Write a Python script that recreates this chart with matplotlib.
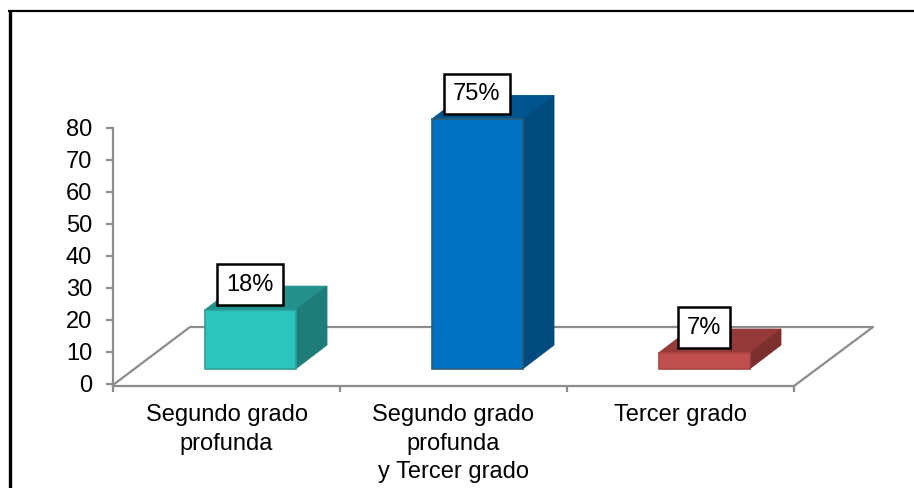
import matplotlib
matplotlib.use('Agg')
import matplotlib.pyplot as plt
from matplotlib.lines import Line2D

plt.rcParams['font.family'] = ['Liberation Sans', 'DejaVu Sans']

categories = ['Segundo grado\nprofunda', 'Segundo grado\nprofunda\ny Tercer grado', 'Tercer grado']
bar_heights = [18.4, 78, 5]
bar_labels = ['18%', '75%', '7%']
y_ticks = [0, 10, 20, 30, 40, 50, 60, 70, 80]

front_colors = ['#2EC4BE', '#0070C0', '#C0504D']
top_colors = ['#24918C', '#00558F', '#953A38']
side_colors = ['#1F7D79', '#004A7E', '#7C302E']
edge_colors = ['#2A9F9A', '#2B5F78', '#AD4441']

W, H = 914, 488
fig = plt.figure(figsize=(W / 100, H / 100), dpi=100)
ax = fig.add_axes([113 / W, 1 - 384 / H, (794 - 113) / W, 256 / H])
ax.set_xlim(-0.5, 2.5)
ax.set_ylim(0, 80)

# one pixel in axis units
px = 3 / 681
py = 80 / 256

floor = 15 * py
shift = 23.5 * px
width = 91 * px
depth_x = 31.5 * px
depth_y = 24 * py

grey = '#8C8C8C'

# floor of the 3d box
floor_x = [-0.5, -0.5 + 77 * px, 2.5 + 79 * px, 2.5]
floor_y = [-1 * py, 57 * py, 57 * py, -2 * py]
ax.plot(floor_x, floor_y, color=grey, lw=1.6, clip_on=False, zorder=1)

for i in range(3):
    left = i + shift - width / 2
    right = left + width
    base = floor
    top = base + bar_heights[i]
    ax.bar(i + shift, bar_heights[i], width=width, bottom=base, color=front_colors[i],
           edgecolor=edge_colors[i], linewidth=1.2, clip_on=False, zorder=3)
    ax.fill([left, right, right + depth_x, left + depth_x],
            [top, top, top + depth_y, top + depth_y],
            facecolor=top_colors[i], edgecolor=top_colors[i], linewidth=0.6, clip_on=False, zorder=2)
    ax.fill([right, right + depth_x, right + depth_x, right],
            [base, base + depth_y, top + depth_y, top],
            facecolor=side_colors[i], edgecolor=side_colors[i], linewidth=0.6, clip_on=False, zorder=2)
    ax.text(i + shift, top + 25.5 * py, bar_labels[i], fontsize=17, color='black',
            ha='center', va='center', clip_on=False, zorder=5,
            bbox=dict(boxstyle='square,pad=0.39', facecolor='white', edgecolor='black', linewidth=1.8))

for s in ['top', 'right']:
    ax.spines[s].set_visible(False)
for s in ['left', 'bottom']:
    ax.spines[s].set_color(grey)
    ax.spines[s].set_linewidth(1.6)
ax.spines['bottom'].set_position(('outward', 1.2))

ax.set_yticks(y_ticks)
ax.tick_params(axis='y', length=5, width=1.6, color=grey, pad=10, labelsize=17)

# ticks between the groups, labels under the middle of each
ax.set_xticks([-0.5, 0.5, 1.5, 2.5])
ax.set_xticklabels([])
ax.tick_params(axis='x', which='major', length=4.5, width=1.6, color=grey)
ax.set_xticks([0, 1, 2], minor=True)
ax.set_xticklabels(categories, minor=True, fontsize=17, linespacing=1.36, va='top')
ax.tick_params(axis='x', which='minor', length=0, pad=13.5)

# black frame round the picture, open on the right and at the bottom
fig.add_artist(Line2D([9.8 / W, 9.8 / W], [0, 1 - 10 / H], color='black', lw=2.4, solid_capstyle='butt'))
fig.add_artist(Line2D([8 / W, 1], [1 - 11 / H, 1 - 11 / H], color='black', lw=1.6, solid_capstyle='butt'))

fig.savefig('out.png', dpi=100)
